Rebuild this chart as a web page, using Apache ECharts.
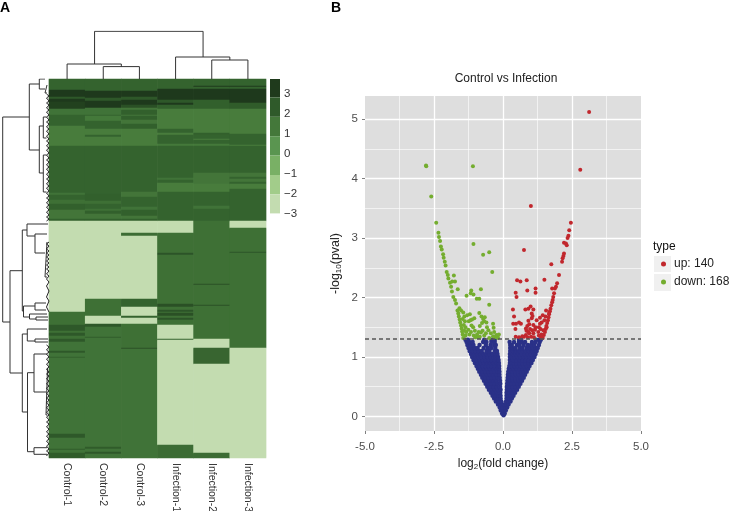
<!DOCTYPE html>
<html><head><meta charset="utf-8">
<style>html,body{margin:0;padding:0;background:#fff}#c{width:729px;height:511px}</style>
<script src="https://cdn.jsdelivr.net/npm/echarts@6/dist/echarts.min.js"></script>
</head><body><div id="c"></div>
<script>
// ---------- Panel A: heatmap ----------
const samples = ['Control-1','Control-2','Control-3','Infection-1','Infection-2','Infection-3'];
const rowCount = 379;
// each run: [last row (exclusive), log2 value]
const runsControl1 = [[11,1.9],[18,3],[20,2.2],[23,3],[30,2.8],[36,1.4],[47,1.9],[67,1.1],[114,1.9],[116,1.4],[121,1.9],[125,1.5],[131,2],[140,1.3],[142,2],[233,-3],[246,1.5],[252,2.2],[254,1.5],[257,2.2],[260,1.5],[263,2.2],[272,1.4],[274,2.2],[278,1.4],[279,2],[355,1.4],[359,2.2],[370,1.4],[371,2.1],[374,1.4],[379,2.1]];
const runsControl2 = [[12,1.9],[19,3],[22,2.2],[29,3],[36,1.4],[37,1.9],[42,1.2],[50,1.9],[56,1.1],[58,1.9],[67,1.1],[115,1.9],[122,2],[125,1.5],[130,1.9],[132,1.5],[135,2],[140,1.3],[142,2],[220,-3],[237,1.5],[245,-3],[248,2.2],[258,1.4],[259,2.1],[368,1.4],[370,2.1],[373,1.4],[375,2.2],[379,1.4]];
const runsControl3 = [[12,1.9],[18,3],[21,2.2],[26,3],[29,2.4],[31,1.3],[36,2],[37,1.3],[41,2],[45,1.3],[50,2],[67,1.1],[113,1.9],[118,1.3],[128,1.9],[131,1.4],[137,2],[140,1.3],[142,2],[154,-3],[157,1.6],[220,-3],[228,1.9],[237,-3],[239,1.9],[245,-3],[269,1.5],[270,2.4],[379,1.4]];
const runsInfection1 = [[10,1.9],[21,3],[24,2.2],[26,3],[30,2],[50,1.1],[54,1.9],[56,1.1],[65,1.9],[67,1.2],[99,1.9],[101,1.4],[104,1.9],[113,1.1],[142,1.9],[154,-3],[174,1.5],[176,2.3],[225,1.5],[228,2.4],[231,1.5],[233,2.3],[234,1.5],[237,2.4],[239,1.5],[241,2.3],[246,1.5],[260,-3],[261,1.9],[366,-3],[379,1.6]];
const runsInfection2 = [[7,1.9],[8,3],[10,1.9],[21,3],[30,2],[54,1.1],[56,2],[60,1.9],[61,1.1],[65,1.9],[67,1.2],[94,1.9],[105,1.3],[113,1.1],[127,1.9],[130,1.4],[142,1.9],[205,1.5],[206,2.4],[226,1.5],[227,2.4],[260,1.5],[269,-3],[285,1.8],[374,-3],[379,1.6]];
const runsInfection3 = [[7,1.9],[8,3],[10,1.9],[24,3],[30,2.1],[55,1.1],[66,1.9],[67,1.1],[94,1.9],[98,1.3],[100,1.9],[103,1.3],[105,1.9],[110,1.1],[142,1.9],[149,-3],[173,1.5],[174,2.3],[269,1.5],[379,-3]];
const heatColors = ['#c3dcb0','#a2cc8a','#79b065','#5a9550','#4a803f','#33602d','#1f3a1c'];
const scaleColors = ['#c3dcb0','#a2cc8a','#79b065','#5a9550','#44783a','#2f5a2a','#1f3a1c'];
const legendEdges = [3.75,2.83,1.86,0.89,-0.08,-1.05,-2.02,-2.97];
const legendTicks = [-3,-2,-1,0,1,2,3];

// dendrogram merges: [child height A, position A, merge height, position B, child height B]
const topMerges = [[0,1.5,12.4,2.5,0],[0,0.5,15,2,12.4],[0,4.5,19,5.5,0],[0,3.5,22,5,19],[15,1.26,47.7,4.26,22]];
const leftMerges = [[29.3,38,2.7,243,10],[39.3,5,29.3,71,39.3],[45,0,39.3,10,45],[47,6,45,14,47],[43.3,47,39.3,94,43.3],[46.5,38,43.3,59,46.5],[46.5,76,43.3,113,46.5],
 [22.3,191.7,10,294,22.3],[27,151,22.3,232,23.5],[48,145,27,157,35],[47,155,35,174,45],[47,163,45,198,47],[35,227,23.5,238,29.5],[46,224,35,231,46],[47,235,29.5,240,36],[48,238,36,241,48],
 [27.3,255,22.3,333,27.5],[47,250,27.3,262,35],[48,260,35,263,48],[34,293.7,27.5,372.7,34],[47,275,34,313,46],[47.5,289,46,336,47.5],[47,368.7,34,375.3,47]];
const leafRows = [15,17,19,22,24,26,29,31,33,36,38,41,43,45,48,50,52,55,57,60,62,64,67,69,71,74,76,79,81,83,86,88,90,93,95,98,100,102,105,107,109,112,114,117,119,121,124,126,128,131,133,136,138,140,142,
 163,165,167,170,172,174,176,178,180,182,184,186,188,190,192,195,197,200,203,207,212,218,222,228,233,
 266,268,271,273,275,278,280,283,285,288,290,293,295,297,300,302,305,307,309,312,314,317,319,321,324,326,329,331,333,336,338,341,343,345,348,350,353,355,357,360,362,365,367,370,372,374,377];

// ---------- Panel B: volcano ----------
const upPoints = [[3.12,5.12],[2.80,4.15],[1.01,3.54],[2.46,3.26],[2.40,3.13],[2.37,3.04],[2.34,3.00],[2.21,2.92],[2.28,2.91],[2.31,2.88],[0.76,2.80],[2.21,2.74],[2.19,2.70],[2.16,2.66],[2.14,2.60],[1.75,2.56],[2.03,2.38],[1.50,2.30],[0.51,2.29],[0.63,2.27],[0.86,2.29],[1.96,2.24],[1.92,2.18],[1.88,2.15],[1.78,2.15],[1.18,2.15],[0.88,2.12],[1.18,2.08],[0.46,2.08],[0.49,2.01],
 [1.85,2.07],[1.82,2.01],[1.80,1.96],[1.78,1.92],[1.75,1.87],[1.72,1.81],[1.70,1.77],[1.67,1.72],[1.65,1.67],[1.63,1.62],[1.60,1.57],[1.57,1.52],[1.55,1.47],[1.52,1.42],[1.48,1.37],[1.44,1.32],[1.56,1.78],[1.67,1.74],[1.54,1.68],[1.50,1.62],[1.58,1.50],[1.46,1.45],[1.40,1.38],
 [0.36,1.80],[0.40,1.68],[0.37,1.56],[0.47,1.56],[0.45,1.47],[0.58,1.58],[0.65,1.56],[0.46,1.34],[0.58,1.33],[0.76,1.34],[0.83,1.37],[0.95,1.40],[1.10,1.40],[1.16,1.46],[0.83,1.48],[0.92,1.61],[0.95,1.55],[1.04,1.65],[1.10,1.54],[1.22,1.62],[1.34,1.56],[1.44,1.70],[1.40,1.58],[1.00,1.85],[0.92,1.81],[0.81,1.80],[1.10,1.80],[1.04,1.73],[1.07,1.69],[0.88,1.52],[0.85,1.44],[0.98,1.47],[1.02,1.34],[0.90,1.33],[1.12,1.33],[1.18,1.50],[1.28,1.42],[1.30,1.50],[1.36,1.47],[1.34,1.66],[1.30,1.36],[0.70,1.35],[0.92,1.42],[1.06,1.45],[1.38,1.33]];
const downPoints = [[-2.79,4.22],[-2.78,4.21],[-1.09,4.21],[-2.60,3.70],[-2.42,3.26],[-2.34,3.09],[-2.32,3.02],[-2.28,2.95],[-2.25,2.86],[-2.22,2.81],[-1.07,2.90],[-0.50,2.76],[-0.72,2.72],[-2.17,2.73],[-2.15,2.67],[-2.11,2.60],[-2.08,2.54],[-2.04,2.43],[-2.00,2.38],[-1.98,2.32],[-0.39,2.43],[-1.78,2.37],[-1.92,2.25],[-1.84,2.27],[-1.74,2.27],[-1.88,2.18],[-1.85,2.10],[-1.80,2.01],[-1.74,1.96],[-1.70,1.90],[-1.64,2.14],[-1.15,2.12],[-0.80,2.14],[-1.17,2.07],[-1.07,2.05],[-1.32,2.03],[-0.95,1.98],[-0.86,1.98],[-0.50,1.88],
 [-1.44,1.32],[-1.46,1.38],[-1.48,1.43],[-1.50,1.48],[-1.52,1.53],[-1.55,1.58],[-1.57,1.63],[-1.60,1.68],[-1.62,1.73],[-1.65,1.78],[-1.58,1.82],[-1.52,1.78],[-1.44,1.75],[-1.40,1.68],[-1.46,1.64],[-1.38,1.60],[-1.42,1.54],[-1.36,1.50],[-1.40,1.44],[-1.33,1.42],[-1.36,1.36],[-1.26,1.46],[-1.22,1.38],[-1.24,1.60],[-1.20,1.72],[-1.18,1.62],[-1.12,1.63],[-1.04,1.65],[-1.14,1.53],[-1.08,1.50],[-1.02,1.44],[-1.06,1.36],[-1.00,1.33],[-0.94,1.38],[-0.88,1.42],[-0.86,1.74],[-0.78,1.68],[-0.72,1.64],[-0.66,1.67],[-0.68,1.60],[-0.76,1.57],[-0.84,1.52],[-0.60,1.58],[-0.58,1.50],[-0.80,1.41],[-0.74,1.44],[-0.68,1.36],[-0.62,1.40],[-0.53,1.45],[-0.36,1.56],[-0.34,1.49],[-0.32,1.42],[-0.36,1.35],[-0.30,1.33],[-0.24,1.37],[-0.20,1.34],[-0.15,1.38],[-0.18,1.32],[-0.44,1.40],[-1.30,1.70],[-1.16,1.42],[-0.90,1.33],[-0.50,1.32],[-0.84,1.34]];
const blueRows = [
 [0.02,[0.02]],[0.05,[-0.03,0.06]],[0.10,[-0.08,0.02,0.10]],[0.15,[-0.12,-0.02,0.08,0.15]],[0.20,[-0.18,-0.08,0.03,0.12,0.20]],[0.25,[-0.26,-0.15,-0.06,0.11,0.18,0.27]],
 [0.30,[-0.32,-0.21,-0.09,0.13,0.22,0.32]],[0.35,[-0.38,-0.27,-0.17,-0.09,0.13,0.20,0.29,0.38]],[0.40,[-0.44,-0.33,-0.22,-0.10,0.13,0.22,0.33,0.44]],
 [0.45,[-0.51,-0.40,-0.29,-0.18,-0.09,0.14,0.22,0.31,0.40,0.51]],[0.50,[-0.57,-0.46,-0.35,-0.24,-0.11,0.14,0.23,0.34,0.45,0.57]],[0.55,[-0.63,-0.52,-0.41,-0.30,-0.19,-0.10,0.15,0.23,0.32,0.42,0.52,0.63]],
 [0.60,[-0.69,-0.58,-0.47,-0.36,-0.25,-0.11,0.16,0.25,0.36,0.47,0.58,0.69]],[0.65,[-0.75,-0.64,-0.53,-0.42,-0.31,-0.20,-0.12,0.17,0.25,0.33,0.44,0.55,0.65,0.75]],[0.70,[-0.80,-0.69,-0.58,-0.47,-0.36,-0.25,-0.13,0.18,0.25,0.36,0.47,0.58,0.69,0.80]],
 [0.75,[-0.86,-0.75,-0.64,-0.53,-0.42,-0.31,-0.20,-0.13,0.19,0.26,0.33,0.44,0.55,0.66,0.76,0.86]],[0.80,[-0.91,-0.80,-0.69,-0.58,-0.47,-0.36,-0.25,-0.14,0.21,0.28,0.37,0.48,0.59,0.70,0.81,0.91]],[0.85,[-0.96,-0.85,-0.74,-0.63,-0.52,-0.41,-0.30,-0.19,-0.14,0.23,0.30,0.41,0.52,0.63,0.74,0.85,0.96]],
 [0.90,[-1.02,-0.91,-0.80,-0.69,-0.58,-0.47,-0.36,-0.25,-0.15,0.25,0.31,0.39,0.50,0.61,0.72,0.83,0.94,1.03]],[0.95,[-1.07,-0.96,-0.85,-0.74,-0.63,-0.52,-0.41,-0.30,-0.20,-0.16,0.25,0.37,0.48,0.59,0.70,0.81,0.92,1.03,1.08]],
 [1.00,[-1.12,-1.01,-0.90,-0.79,-0.68,-0.57,-0.46,-0.35,-0.26,-0.18,0.25,0.31,0.42,0.53,0.64,0.75,0.86,0.97,1.08,1.14]],[1.05,[-1.16,-1.05,-0.94,-0.83,-0.72,-0.61,-0.50,-0.39,-0.28,-0.20,0.25,0.33,0.44,0.55,0.66,0.77,0.88,0.99,1.10,1.18]],
 [1.10,[-1.21,-1.10,-0.99,-0.88,-0.77,-0.60,-0.49,-0.30,-0.22,0.26,0.36,0.47,0.58,0.72,0.83,0.94,1.05,1.16,1.22]],[1.15,[-1.25,-1.14,-1.03,-0.92,-0.70,-0.55,-0.42,-0.28,0.26,0.34,0.45,0.60,0.70,0.85,0.96,1.07,1.18,1.26]],
 [1.20,[-1.29,-1.18,-1.07,-0.85,-0.62,-0.45,-0.32,-0.26,0.26,0.32,0.50,0.60,0.75,0.90,1.02,1.14,1.30]],[1.25,[-1.32,-1.22,-1.10,-0.72,-0.60,-0.42,-0.30,0.24,0.40,0.58,0.68,0.80,1.05,1.18,1.33]],[1.29,[-1.36,-1.27,-0.68,-0.42,-0.30,0.58,0.66,1.20,1.30,1.37]]
];
const threshold = 1.3;
const xMajor = [-2.5,0,2.5], xMinor = [-3.75,-1.25,1.25,3.75];
const yMajor = [0,1,2,3,4,5], yMinor = [0.5,1.5,2.5,3.5,4.5];
const legendUp = 'up: 140', legendDown = 'down: 168';

// ---------- build ----------
const columns = [runsControl1,runsControl2,runsControl3,runsInfection1,runsInfection2,runsInfection3];
const rowLabels = Array.from({length:rowCount},(_,i)=>String(i));
const heatData = [];
columns.forEach((runs,c)=>{let start=0;runs.forEach(([end,v])=>{for(let r=start;r<end;r++)heatData.push([c,r,v]);start=end;});});
const vertPath = m=>[[m[1],m[0]],[m[1],m[2]],[m[3],m[2]],[m[3],m[4]],[null,null]];
const horizPath = m=>[[m[0],m[1]],[m[2],m[1]],[m[2],m[3]],[m[4],m[3]],[null,null]];
const topPath = topMerges.flatMap(vertPath);
const leftPath = leftMerges.flatMap(horizPath);
const leafPath = [];
leafRows.forEach((r,i)=>{ if(i&&r-leafRows[i-1]>6) leafPath.push([null,null]); leafPath.push([i%2?49:46.5,r]); });
const blueData = blueRows.flatMap(([y,xs])=>xs.map(x=>[x,y]));
const legendBins = legendEdges.slice(0,-1).map((hi,i)=>[legendEdges[i+1],hi,6-i]);
const gridLine = (vals,key,w)=>vals.map(v=>({[key]:v,lineStyle:{color:'#fff',width:w,type:'solid'}}));
const FONT = '"Liberation Sans",Arial,sans-serif';
const dendroLine = {color:'#333',width:1};
const hiddenAxis = {show:false};
const plain = (size,color,weight)=>({fontFamily:FONT,fontSize:size,fontWeight:weight||'normal',color});

const chart = echarts.init(document.getElementById('c'),null,{renderer:'canvas'});
chart.setOption({
  animation:false,
  textStyle:{fontFamily:FONT},
  title:[
    {text:'A',left:0,top:1,padding:0,textStyle:plain(14,'#000','bold')},
    {text:'B',left:331,top:1,padding:0,textStyle:plain(14,'#000','bold')},
    {text:'Control vs Infection',left:506,textAlign:'center',top:73,padding:0,textStyle:plain(12,'#222')},
    {text:'type',left:653,top:241,padding:0,textStyle:plain(12,'#111')}
  ],
  visualMap:{show:false,type:'continuous',seriesIndex:0,dimension:2,min:-3,max:3,inRange:{color:heatColors}},
  grid:[
    {left:49,top:79,width:217,height:379,outerBoundsMode:'none'},
    {left:49,top:31,width:217,height:48,outerBoundsMode:'none'},
    {left:0,top:79,width:49,height:379,outerBoundsMode:'none'},
    {left:270,top:79,width:10,height:137,outerBoundsMode:'none'},
    {left:365,top:96,width:276,height:335,show:true,backgroundColor:'#dedede',borderWidth:0,outerBoundsMode:'none'}
  ],
  xAxis:[
    {gridIndex:0,type:'category',data:samples,position:'bottom',axisLine:{show:false},axisTick:{show:false},splitLine:{show:false},
      axisLabel:{rotate:-90,margin:5,fontSize:10.5,color:'#333',interval:0}},
    {gridIndex:1,type:'value',min:0,max:6,...hiddenAxis},
    {gridIndex:2,type:'value',min:0,max:49,...hiddenAxis},
    {gridIndex:3,type:'value',min:0,max:1,...hiddenAxis},
    {gridIndex:4,type:'value',min:-5,max:5,interval:2.5,splitLine:{show:false},axisLine:{show:false,onZero:false},
      axisTick:{length:3,lineStyle:{color:'#7f7f7f'}},
      axisLabel:{fontSize:11.5,color:'#4d4d4d',margin:10,formatter:v=>v.toFixed(1)},
      name:'log{sub|2}(fold change)',nameLocation:'middle',nameGap:26,
      nameTextStyle:{fontSize:12,color:'#222',rich:{sub:{fontSize:8,padding:[6,0,0,0],color:'#222'}}}}
  ],
  yAxis:[
    {gridIndex:0,type:'category',data:rowLabels,inverse:true,show:false},
    {gridIndex:1,type:'value',min:0,max:48,...hiddenAxis},
    {gridIndex:2,type:'value',min:0,max:379,inverse:true,...hiddenAxis},
    {gridIndex:3,type:'value',min:-3.1,max:3.75,position:'right',splitLine:{show:false},axisLine:{show:false},axisTick:{show:false},
      axisLabel:{customValues:legendTicks,fontSize:11.5,color:'#333',margin:4,formatter:v=>String(v).replace('-','\u2212')}},
    {gridIndex:4,type:'value',min:-0.245,max:5.39,splitLine:{show:false},axisLine:{show:false,onZero:false},
      axisTick:{customValues:yMajor,length:3,lineStyle:{color:'#7f7f7f'}},
      axisLabel:{customValues:yMajor,fontSize:11.5,color:'#4d4d4d',margin:7},
      name:'-log{sub|10}(pval)',nameLocation:'middle',nameGap:22,nameRotate:90,
      nameTextStyle:{fontSize:12.5,color:'#222',rich:{sub:{fontSize:8,padding:[6,0,0,0],color:'#222'}}}}
  ],
  legend:{left:661,top:257,padding:0,orient:'vertical',itemWidth:17,itemHeight:5,itemGap:4,icon:'circle',data:[legendUp,legendDown],
    textStyle:{fontFamily:FONT,fontSize:12,lineHeight:14,color:'#222',padding:[0,0,0,-3]},selectedMode:false},
  graphic:[
    {type:'rect',left:654,top:256,shape:{width:17,height:16},style:{fill:'#f0f0f0'},z:-1},
    {type:'rect',left:654,top:274,shape:{width:17,height:17},style:{fill:'#f0f0f0'},z:-1}
  ],
  series:[
    {type:'heatmap',xAxisIndex:0,yAxisIndex:0,data:heatData,progressive:0,itemStyle:{borderWidth:0},emphasis:{disabled:true}},
    {type:'line',name:'colDendro',xAxisIndex:1,yAxisIndex:1,data:topPath,showSymbol:false,lineStyle:dendroLine,connectNulls:false,silent:true},
    {type:'line',name:'rowDendro',xAxisIndex:2,yAxisIndex:2,data:leftPath,showSymbol:false,lineStyle:dendroLine,connectNulls:false,silent:true},
    {type:'line',name:'rowLeaves',xAxisIndex:2,yAxisIndex:2,data:leafPath,showSymbol:false,lineStyle:{color:'#222',width:1},connectNulls:false,silent:true},
    {type:'custom',name:'scale',xAxisIndex:3,yAxisIndex:3,data:legendBins,silent:true,
      renderItem:(p,api)=>{const a=api.coord([0,api.value(1)]),b=api.coord([1,api.value(0)]);
        return {type:'rect',shape:{x:a[0],y:a[1],width:b[0]-a[0],height:b[1]-a[1]},style:{fill:scaleColors[api.value(2)]}};}},
    {type:'scatter',name:'gridlines',xAxisIndex:4,yAxisIndex:4,data:[],silent:true,
      markLine:{silent:true,symbol:'none',z:1,label:{show:false},animation:false,
        data:[...gridLine(xMinor,'xAxis',0.6),...gridLine(yMinor,'yAxis',0.6),...gridLine(xMajor,'xAxis',1.3),...gridLine(yMajor,'yAxis',1.3)]}},
    {type:'scatter',name:'not significant',xAxisIndex:4,yAxisIndex:4,data:blueData,symbolSize:4.5,itemStyle:{color:'#2a3188',opacity:1},silent:true,z:3,
      markLine:{silent:true,symbol:'none',z:6,label:{show:false},animation:false,data:[{yAxis:threshold,lineStyle:{color:'#555',width:1.5,type:[4,3]}}]}},
    {type:'scatter',name:legendUp,xAxisIndex:4,yAxisIndex:4,data:upPoints,symbolSize:4,itemStyle:{color:'#c1272d',opacity:1},z:4},
    {type:'scatter',name:legendDown,xAxisIndex:4,yAxisIndex:4,data:downPoints,symbolSize:4,itemStyle:{color:'#74ad2f',opacity:1},z:4}
  ]
});
</script></body></html>
